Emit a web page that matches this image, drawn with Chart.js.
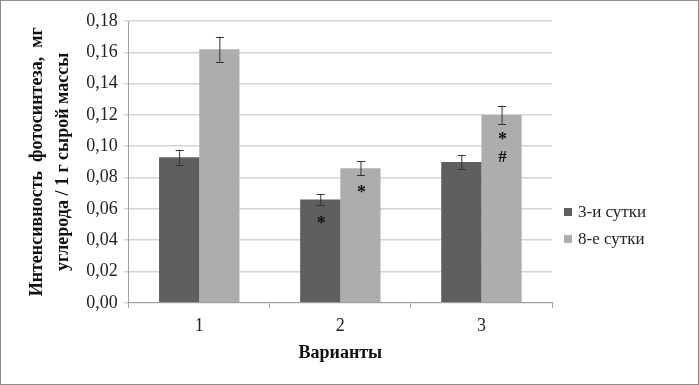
<!DOCTYPE html>
<html>
<head>
<meta charset="utf-8">
<script src="https://cdn.jsdelivr.net/npm/chart.js@4.4.0/dist/chart.umd.min.js"></script>
<style>
  html, body { margin: 0; padding: 0; background: #fff; }
  #wrap { position: relative; width: 699px; height: 385px; box-sizing: border-box; border: 1px solid #8c8c8c; }
  #chart { position: absolute; left: 0; top: 0; }
  #legend { position: absolute; left: 563px; top: 197px; font-family: "Liberation Serif", serif; font-size: 17px; color: #222; }
  #legend div { height: 27px; display: flex; align-items: center; }
  #legend span.box { display: inline-block; width: 8px; height: 8px; margin-right: 6px; }
</style>
</head>
<body>
<div id="wrap">
  <canvas id="chart" width="697" height="383"></canvas>
  <div id="legend"></div>
</div>
<script>
// Данные
const categories = ['1', '2', '3'];
const seriesNames = ['3-и сутки', '8-е сутки'];
const day3 = [0.093, 0.066, 0.090];
const day8 = [0.162, 0.086, 0.120];
const day3Err = [0.0048, 0.0035, 0.0045];
const day8Err = [0.0080, 0.0045, 0.0060];
// значки достоверности на столбцах
const day3Marks = [[], ['*'], []];
const day8Marks = [[], ['*'], ['*', '#']];
const colors = ['#5f5f5f', '#adadad'];

const serif = '"Liberation Serif", "Times New Roman", serif';

// легенда в HTML
const legend = document.getElementById('legend');
seriesNames.forEach((name, i) => {
    const row = document.createElement('div');
    row.innerHTML = `<span class="box" style="background:${colors[i]}"></span>${name}`;
    legend.appendChild(row);
});

// планки погрешностей и значки
const errorBarsPlugin = {
    id: 'errorBars',
    afterDatasetsDraw(chart) {
        const ctx = chart.ctx;
        const y = chart.scales.y;
        const errs = [day3Err, day8Err];
        const marks = [day3Marks, day8Marks];
        chart.data.datasets.forEach((ds, di) => {
            const meta = chart.getDatasetMeta(di);
            meta.data.forEach((bar, i) => {
                const v = ds.data[i];
                const e = errs[di][i];
                const yTop = y.getPixelForValue(v + e);
                const yBot = y.getPixelForValue(v - e);
                ctx.save();
                ctx.strokeStyle = '#333';
                ctx.lineWidth = 1;
                ctx.beginPath();
                ctx.moveTo(bar.x + 0.5, yTop);
                ctx.lineTo(bar.x + 0.5, yBot);
                ctx.moveTo(bar.x - 3.5, Math.round(yTop) + 0.5);
                ctx.lineTo(bar.x + 4.5, Math.round(yTop) + 0.5);
                ctx.moveTo(bar.x - 3.5, Math.round(yBot) + 0.5);
                ctx.lineTo(bar.x + 4.5, Math.round(yBot) + 0.5);
                ctx.stroke();
                ctx.fillStyle = '#111';
                ctx.textAlign = 'center';
                ctx.textBaseline = 'middle';
                marks[di][i].forEach(m => {
                    ctx.font = m === '*' ? 'bold 18px ' + serif : 'bold 17px ' + serif;
                    const off = m === '*' ? 25 : 43;
                    ctx.fillText(m, bar.x + 1, bar.y + off);
                });
                ctx.restore();
            });
        });
    }
};

new Chart(document.getElementById('chart'), {
    type: 'bar',
    data: {
        labels: categories,
        datasets: [
            { label: seriesNames[0], data: day3, backgroundColor: colors[0] },
            { label: seriesNames[1], data: day8, backgroundColor: colors[1] }
        ]
    },
    options: {
        responsive: false,
        animation: false,
        layout: { padding: { left: 19, right: 146, top: 20, bottom: 16 } },
        categoryPercentage: 0.57,
        barPercentage: 1.0,
        plugins: {
            legend: { display: false },
            tooltip: { enabled: false }
        },
        scales: {
            x: {
                grid: { display: true, drawOnChartArea: false, offset: true, tickLength: 5, color: '#a0a0a0' },
                border: { color: '#a0a0a0' },
                ticks: { color: '#222', font: { family: serif, size: 18 }, padding: 8 },
                title: { display: true, text: 'Варианты', color: '#111', font: { family: serif, size: 18, weight: 'bold' }, padding: { top: -3 } }
            },
            y: {
                min: 0,
                max: 0.18,
                ticks: {
                    stepSize: 0.02,
                    color: '#222',
                    font: { family: serif, size: 18 },
                    padding: 6,
                    callback: v => v.toFixed(2).replace('.', ',')
                },
                grid: { color: '#d4d4d4', tickLength: 5, lineWidth: 1.5 },
                border: { color: '#a0a0a0' },
                title: {
                    display: true,
                    text: ['Интенсивность  фотосинтеза,  мг', 'углерода / 1 г сырой массы'],
                    color: '#111',
                    font: { family: serif, size: 18, weight: 'bold', lineHeight: 1.45 },
                    padding: { bottom: 4 }
                }
            }
        }
    },
    plugins: [errorBarsPlugin]
});
</script>
</body>
</html>
